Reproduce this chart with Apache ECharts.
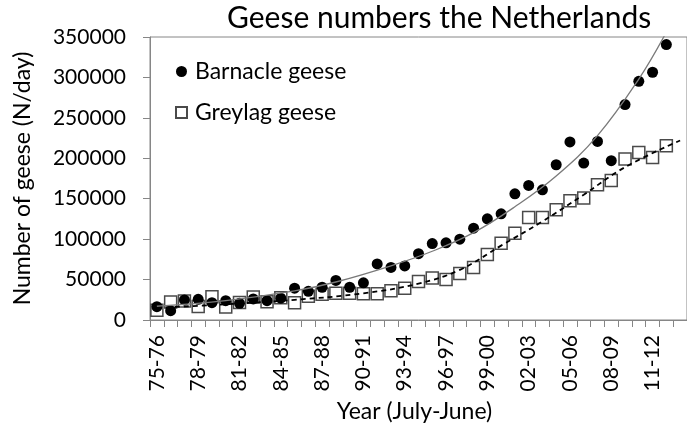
<!DOCTYPE html>
<html>
<head>
<meta charset="utf-8">
<script src="https://cdn.jsdelivr.net/npm/echarts@6/dist/echarts.min.js"></script>
<style>
  html, body { margin: 0; padding: 0; background: #fff; }
  #chart { width: 687px; height: 430px; }
</style>
</head>
<body>
<div id="chart"></div>
<script>
// seasons (July-June), last one is empty room at the right edge
const seasons = ['75-76', '76-77', '77-78', '78-79', '79-80', '80-81', '81-82', '82-83', '83-84', '84-85',
  '85-86', '86-87', '87-88', '88-89', '89-90', '90-91', '91-92', '92-93', '93-94', '94-95',
  '95-96', '96-97', '97-98', '98-99', '99-00', '00-01', '01-02', '02-03', '03-04', '04-05',
  '05-06', '06-07', '07-08', '08-09', '09-10', '10-11', '11-12', '12-13', '13-14'];

const barnacle = [16500, 11500, 24800, 25600, 21400, 23900, 20600, 26000, 23900, 27000,
  39300, 35500, 40500, 49000, 40500, 46000, 69400, 65000, 66900, 82000,
  94500, 95500, 100000, 113600, 125100, 131300, 156100, 166400, 161000, 192000,
  220200, 194100, 220900, 197000, 266400, 295200, 306400, 340700];

const greylag = [12000, 22300, 23500, 16700, 28900, 16000, 21500, 28500, 22500, 27600,
  21200, 29500, 32000, 33000, 33000, 32500, 32500, 36300, 39300, 47500,
  52000, 50000, 57500, 65000, 81000, 95000, 107400, 126700, 126700, 136300,
  147400, 150800, 167300, 172600, 199100, 207300, 201100, 215600];

// trend lines: [season, value]
const barnacleTrend = [['75-76', 17000], ['80-81', 24000], ['85-86', 36000], ['88-89', 47000],
  ['92-93', 67000], ['95-96', 85000], ['98-99', 108000], ['01-02', 140000], ['04-05', 178000],
  ['07-08', 228000], ['10-11', 298000], ['12-13', 356000]];

const greylagTrend = [['75-76', 15000], ['80-81', 19500], ['85-86', 25000], ['90-91', 33000],
  ['94-95', 45000], ['97-98', 62000], ['00-01', 92000], ['03-04', 122000], ['06-07', 155000],
  ['09-10', 189000], ['13-14', 222000]];

const yTicks = [0, 350000, 50000]; // min, max, step

// use the category index so the line sits on the right season
function toIndex(pairs) {
  return pairs.map(p => [seasons.indexOf(p[0]), p[1]]);
}

const font = 'Lato, "Open Sans", sans-serif';
const chart = echarts.init(document.getElementById('chart'));

chart.setOption({
  animation: false,
  backgroundColor: '#fff',
  title: {
    text: 'Geese numbers the Netherlands',
    left: 227,
    top: 3,
    padding: 0,
    textStyle: { fontFamily: font, fontSize: 30, fontWeight: 'normal', color: '#000' }
  },
  legend: {
    orient: 'vertical',
    left: 175,
    top: 60,
    padding: 0,
    itemGap: 18,
    itemWidth: 11,
    itemHeight: 11,
    textStyle: { fontFamily: font, fontSize: 23, color: '#000', padding: [0, 0, 0, 3] },
    data: [
      { name: 'Barnacle geese', icon: 'circle' },
      { name: 'Greylag geese', icon: 'rect' }
    ]
  },
  grid: {
    left: 150,
    right: -10,
    top: 37,
    bottom: 110,
    show: true,
    borderColor: '#868686',
    borderWidth: 1
  },
  xAxis: {
    type: 'category',
    data: seasons,
    boundaryGap: true,
    name: 'Year (July-June)',
    nameLocation: 'middle',
    nameGap: 80,
    nameTextStyle: { fontFamily: font, fontSize: 23, color: '#000', padding: [0, 8, 0, 0] },
    axisLine: { lineStyle: { color: '#868686', width: 1 } },
    axisTick: { show: true, interval: 0, length: 7, lineStyle: { color: '#868686' } },
    axisLabel: {
      interval: 2,
      rotate: 90,
      margin: 15,
      fontFamily: font,
      fontSize: 21,
      color: '#000'
    },
    splitLine: { show: false }
  },
  yAxis: {
    type: 'value',
    min: yTicks[0],
    max: yTicks[1],
    interval: yTicks[2],
    name: 'Number of geese (N/day)',
    nameLocation: 'middle',
    nameGap: 116,
    nameTextStyle: { fontFamily: font, fontSize: 23, color: '#000' },
    axisLine: { show: true, lineStyle: { color: '#868686', width: 1 } },
    axisTick: { show: true, length: 7, lineStyle: { color: '#868686' } },
    axisLabel: { margin: 24, fontFamily: font, fontSize: 21, color: '#000', formatter: v => String(v) },
    splitLine: { show: false }
  },
  series: [
    {
      name: 'Greylag geese',
      type: 'scatter',
      data: greylag,
      symbol: 'rect',
      symbolSize: 12,
      itemStyle: { color: '#fff', borderColor: '#4a4a4a', borderWidth: 1.5, opacity: 1 },
      z: 2
    },
    {
      name: 'Barnacle geese',
      type: 'scatter',
      data: barnacle,
      symbol: 'circle',
      symbolSize: 11,
      itemStyle: { color: '#000', opacity: 1 },
      z: 3
    },
    {
      name: 'barnacle trend',
      type: 'line',
      data: toIndex(barnacleTrend),
      smooth: 0.4,
      showSymbol: false,
      lineStyle: { color: '#7a7a7a', width: 1.3 },
      z: 4
    },
    {
      name: 'greylag trend',
      type: 'line',
      data: toIndex(greylagTrend),
      smooth: 0.4,
      showSymbol: false,
      lineStyle: { color: '#000', width: 1.8, type: [5, 4] },
      z: 4
    }
  ]
});
</script>
</body>
</html>
